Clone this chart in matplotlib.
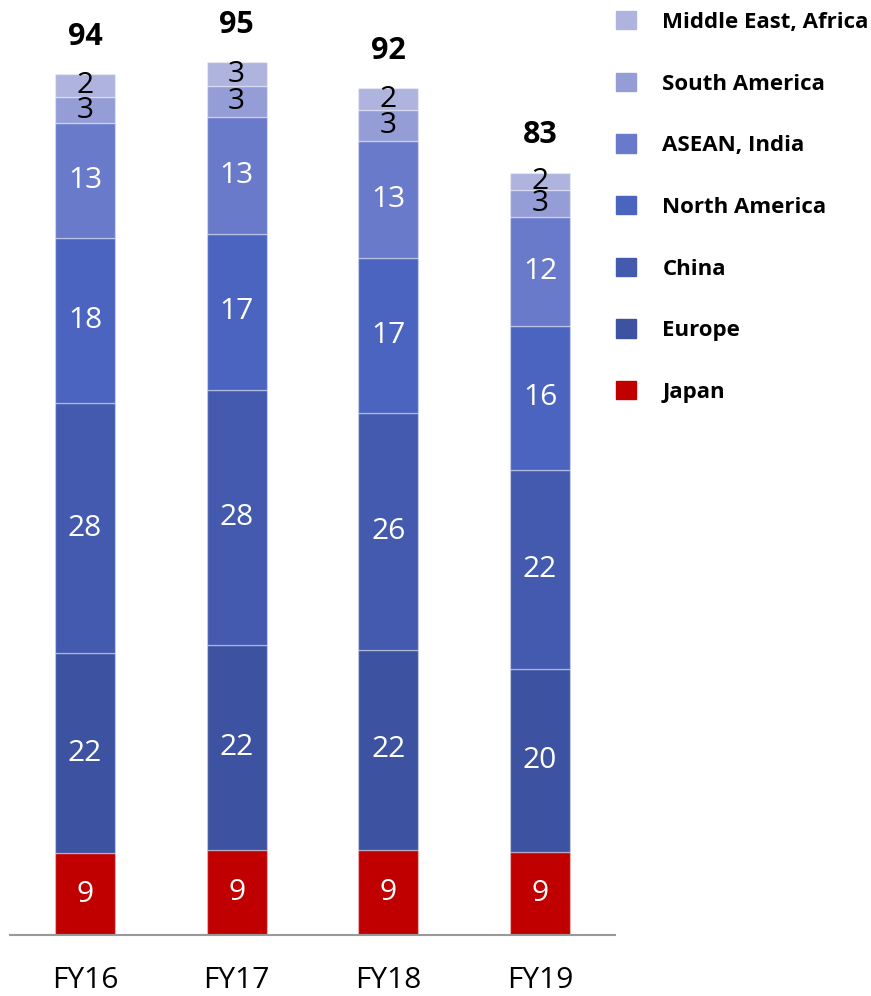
import numpy as np
import matplotlib
matplotlib.use("Agg")
from matplotlib import pyplot as plt
from matplotlib.patches import Patch

plt.rcParams['font.family'] = ['Open Sans', 'DejaVu Sans']

years = ['FY16', 'FY17', 'FY18', 'FY19']
regions = ['Japan', 'Europe', 'China', 'North America', 'ASEAN, India',
           'South America', 'Middle East, Africa']
colors = ['#C00000', '#3D52A0', '#435AAF', '#4A64C0', '#6A7ACA',
          '#949DD6', '#AEB4DE']

# values
japan = [8.9, 9.3, 9.3, 9.0]
europe = [21.8, 22.3, 21.8, 20.0]
china = [27.3, 27.8, 25.8, 21.7]
north_america = [18.0, 17.0, 16.9, 15.7]
asean_india = [12.5, 12.7, 12.7, 11.8]
south_america = [2.8, 3.4, 3.4, 3.0]
middle_east = [2.5, 2.6, 2.4, 1.9]

# labels as printed on the chart
japan_lbl = [9, 9, 9, 9]
europe_lbl = [22, 22, 22, 20]
china_lbl = [28, 28, 26, 22]
north_america_lbl = [18, 17, 17, 16]
asean_india_lbl = [13, 13, 13, 12]
south_america_lbl = [3, 3, 3, 3]
middle_east_lbl = [2, 3, 2, 2]
totals = [94, 95, 92, 83]

series = [japan, europe, china, north_america, asean_india, south_america, middle_east]
labels = [japan_lbl, europe_lbl, china_lbl, north_america_lbl, asean_india_lbl,
          south_america_lbl, middle_east_lbl]

fig = plt.figure(figsize=(8.71, 9.96), dpi=100)
ax = fig.add_axes([0.0115, 0.0612, 0.6946, 0.9388])

x = np.arange(len(years))
bottom = np.zeros(len(years))
for i in range(len(series)):
    vals = np.array(series[i])
    ax.bar(x, vals, 0.395, bottom=bottom, color=colors[i],
           edgecolor=(1, 1, 1, 0.35), linewidth=1)
    txtcol = 'black' if i >= 5 else 'white'
    for j in range(len(years)):
        ax.text(x[j], bottom[j] + vals[j] / 2, str(labels[i][j]), ha='center',
                va='center', color=txtcol, fontsize=21.5)
    bottom = bottom + vals

for j in range(len(years)):
    ax.annotate(str(totals[j]), (x[j], bottom[j]), xytext=(0, 27),
                textcoords='offset points', ha='center', va='center',
                fontsize=22, fontweight='bold')

ax.set_xlim(-0.494, 3.494)
ax.set_ylim(0, 101.9)
for s in ['top', 'right', 'left']:
    ax.spines[s].set_visible(False)
ax.spines['bottom'].set_color('#999999')
ax.spines['bottom'].set_linewidth(1.5)
ax.set_yticks([])
ax.set_xticks(x)
ax.set_xticklabels(years, fontsize=21.5)
ax.tick_params(axis='x', length=0, pad=22)

handles = [Patch(color=colors[i], label=regions[i]) for i in range(len(regions))][::-1]
fig.legend(handles=handles, loc='upper left', bbox_to_anchor=(0.684, 1.009),
           frameon=False, prop={'weight': 'bold', 'size': 16},
           handlelength=0.9, handleheight=0.9, handletextpad=1.2,
           labelspacing=1.79)

fig.savefig('out.png', dpi=100)
